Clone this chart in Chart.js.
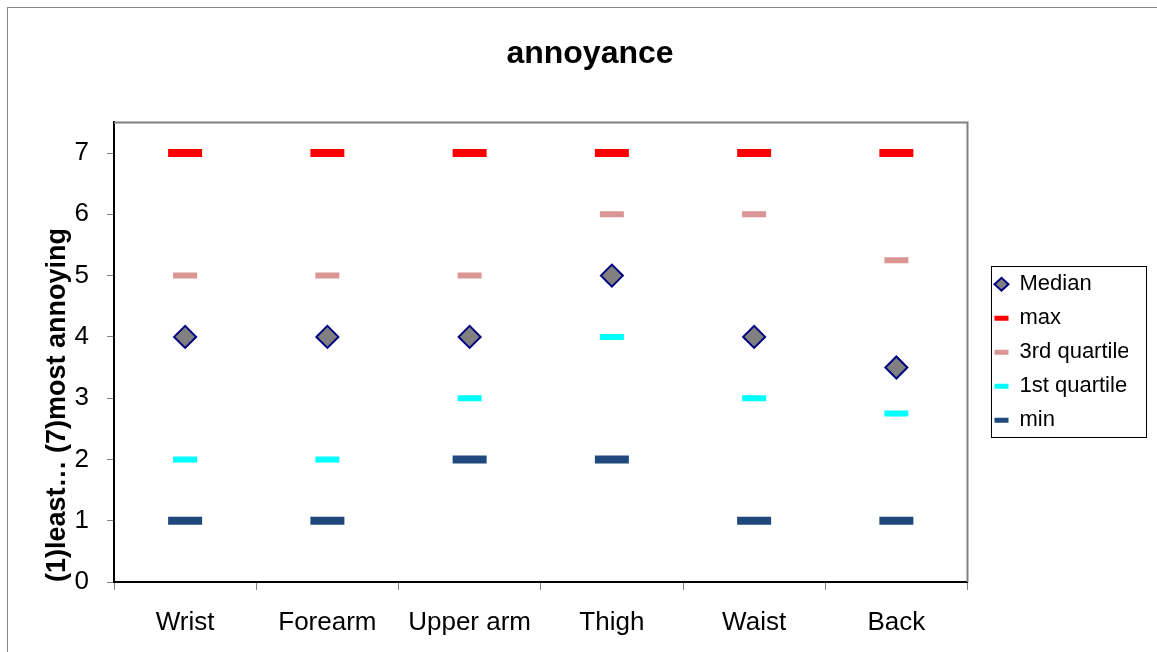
<!DOCTYPE html>
<html>
<head>
<meta charset="utf-8">
<script src="https://cdn.jsdelivr.net/npm/chart.js@4/dist/chart.umd.min.js"></script>
<style>
  html, body { margin: 0; padding: 0; background: #fff; overflow: hidden; }
  #frame {
    position: absolute; left: 7px; top: 7px;
    width: 1164px; height: 664px;
    border: 1px solid #868686;
  }
  #chart { display: block; }
</style>
</head>
<body>
<div id="frame">
  <canvas id="chart" width="1164" height="664"></canvas>
</div>
<script>
// data
const labels = ['Wrist', 'Forearm', 'Upper arm', 'Thigh', 'Waist', 'Back'];
const median = [4, 4, 4, 5, 4, 3.5];
const maxVals = [7, 7, 7, 7, 7, 7];
const q3 = [5, 5, 5, 6, 6, 5.25];
const q1 = [2, 2, 3, 4, 3, 2.75];
const minVals = [1, 1, 2, 2, 1, 1];

const font = "'Liberation Sans', Arial, sans-serif";

function dash(label, data, color, half, thick) {
    return {
        label: label,
        data: data,
        showLine: false,
        pointStyle: 'line',
        pointRadius: half,
        pointHoverRadius: half,
        pointBorderWidth: thick,
        pointBorderColor: color,
        pointBackgroundColor: color,
        borderColor: color,
        backgroundColor: color
    };
}

// grey top/right edge of the plot + legend box
const frames = {
    id: 'frames',
    beforeDatasetsDraw(chart) {
        const a = chart.chartArea;
        const c = chart.ctx;
        c.save();
        c.strokeStyle = '#808080';
        c.lineWidth = 2;
        c.beginPath();
        c.moveTo(a.left, a.top);
        c.lineTo(a.right, a.top);
        c.lineTo(a.right, a.bottom);
        c.stroke();
        c.restore();
    },
    afterDraw(chart) {
        const hb = chart.legend.legendHitBoxes;
        if (!hb || !hb.length) return;
        const c = chart.ctx;
        const last = hb[hb.length - 1];
        const top = hb[0].top - 7;
        const bottom = last.top + last.height + 6;
        const left = hb[0].left - 4;
        c.save();
        c.strokeStyle = '#000';
        c.lineWidth = 1;
        c.strokeRect(Math.round(left) + 0.5, Math.round(top) + 0.5, 155, Math.round(bottom - top));
        c.restore();
    }
};

const config = {
    type: 'line',
    data: {
        labels: labels,
        datasets: [{
            label: 'Median',
            data: median,
            showLine: false,
            pointStyle: 'rectRot',
            pointRadius: 11,
            pointHoverRadius: 11,
            pointBorderWidth: 2,
            pointBorderColor: '#000080',
            pointBackgroundColor: '#808080',
            borderColor: '#000080',
            backgroundColor: '#808080'
        },
            dash('max', maxVals, '#FF0000', 17, 8),
            dash('3rd quartile', q3, '#DA9694', 12, 6),
            dash('1st quartile', q1, '#00FFFF', 12, 6),
            dash('min', minVals, '#1F497D', 17, 8)
        ]
    },
    plugins: [frames],
    options: {
        responsive: false,
        animation: false,
        layout: { padding: 0 },
        plugins: {
            tooltip: { enabled: false },
            title: {
                display: true,
                text: 'annoyance',
                color: '#000',
                font: { family: font, size: 32, weight: 'bold' },
                padding: { top: 27, bottom: 49 }
            },
            legend: {
                position: 'right',
                fullSize: false,
                labels: {
                    usePointStyle: true,
                    pointStyleWidth: 14,
                    boxHeight: 9,
                    padding: 12,
                    color: '#000',
                    font: { family: font, size: 22 },
                    generateLabels(chart) {
                        const items = Chart.defaults.plugins.legend.labels.generateLabels(chart);
                        items.forEach(it => {
                            if (it.pointStyle === 'line') it.lineWidth = 5;
                        });
                        return items;
                    }
                }
            }
        },
        scales: {
            x: {
                offset: true,
                grid: {
                    offset: true,
                    drawOnChartArea: false,
                    tickLength: 8,
                    color: '#808080'
                },
                border: { color: '#000', width: 2 },
                ticks: {
                    color: '#000',
                    padding: 17,
                    maxRotation: 0,
                    font: { family: font, size: 26 }
                },
                afterFit(scale) { scale.height = 90; }
            },
            y: {
                min: 0,
                max: 7.5,
                ticks: {
                    stepSize: 1,
                    color: '#000',
                    padding: 18,
                    font: { family: font, size: 26 }
                },
                afterBuildTicks(scale) {
                    scale.ticks = scale.ticks.filter(t => Number.isInteger(t.value));
                },
                grid: {
                    drawOnChartArea: false,
                    tickLength: 7,
                    color: '#808080'
                },
                border: { color: '#000', width: 2 },
                title: {
                    display: true,
                    text: '(1)least… (7)most annoying',
                    align: 'start',
                    color: '#000',
                    font: { family: font, size: 27, weight: 'bold' },
                    padding: { top: 33, bottom: 0 }
                },
                afterFit(scale) { scale.width = 106; }
            },
            // empty space between plot and legend
            gap: {
                position: 'right',
                display: true,
                grid: { display: false },
                border: { display: false },
                ticks: { display: false },
                afterFit(scale) { scale.width = 15; }
            },
            // empty margin right of the legend
            edge: {
                position: 'right',
                weight: 2000,
                display: true,
                grid: { display: false },
                border: { display: false },
                ticks: { display: false },
                afterFit(scale) { scale.width = 44; }
            }
        }
    }
};

const myChart = new Chart(document.getElementById('chart'), config);
</script>
</body>
</html>
